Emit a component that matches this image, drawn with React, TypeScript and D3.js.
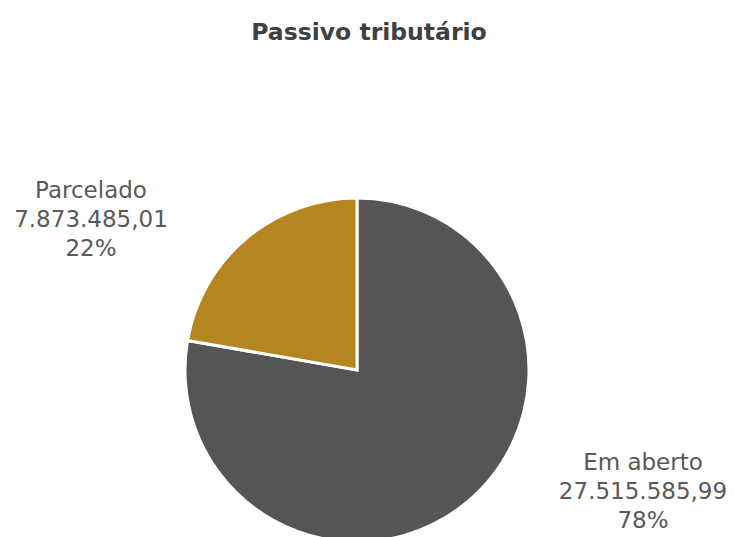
import React from "react";
import * as d3 from "d3";

const categories = ["Em aberto", "Parcelado"];
const values = [27515585.99, 7873485.01];
const valueLabels = ["27.515.585,99", "7.873.485,01"];
const colors = ["#555555", "#B5851F"];

const W = 735;
const H = 537;

export default function App() {
  const cx = 357;
  const cy = 370;
  const r = 172;
  const total = d3.sum(values);
  const pie = d3.pie<number>().sort(null).value((d) => d);
  const arcs = pie(values);
  const arcGen = d3.arc<d3.PieArcDatum<number>>().innerRadius(0).outerRadius(r);
  const labelPos: [number, number][] = [
    [643, 470],
    [91, 198],
  ];
  return (
    <svg width={W} height={H} style={{ position: "absolute", left: 0, top: 0, fontFamily: "'DejaVu Sans', sans-serif" }}>
      <rect width={W} height={H} fill="#fff" />
      <text x={369} y={40} textAnchor="middle" fontSize={23.5} fontWeight={700} fill="#404040">
        Passivo tributário
      </text>
      <g transform={`translate(${cx},${cy})`}>
        {arcs.map((a, i) => (
          <path key={i} d={arcGen(a) || ""} fill={colors[i]} stroke="#fff" strokeWidth={3} strokeLinejoin="miter" />
        ))}
      </g>
      {categories.map((c, i) => {
        const [x, y] = labelPos[i];
        const pct = Math.round((values[i] / total) * 100) + "%";
        return (
          <text key={c} x={x} y={y} textAnchor="middle" fontSize={23} fill="#595959">
            <tspan x={x} dy={0}>{c}</tspan>
            <tspan x={x} dy={29}>{valueLabels[i]}</tspan>
            <tspan x={x} dy={29}>{pct}</tspan>
          </text>
        );
      })}
    </svg>
  );
}
